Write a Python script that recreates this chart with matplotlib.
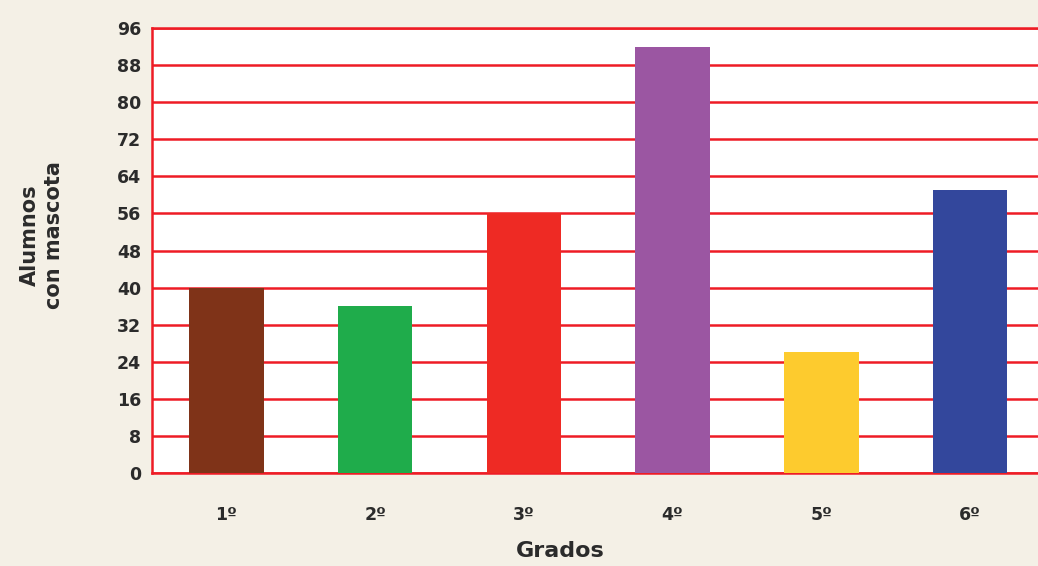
import numpy as np
import matplotlib.pyplot as plt

grados = ["1º", "2º", "3º", "4º", "5º", "6º"]
alumnos = [40, 36, 56, 92, 26, 61]
colores = ["#7f3318", "#1fac4b", "#ee2a24", "#9b56a2", "#fdcb2e", "#33479c"]
yticks = list(range(0, 97, 8))

fondo = "#f4f0e6"
rojo = "#ee1c25"
texto = "#2b2b2b"

fig = plt.figure(figsize=(10.38, 5.66), dpi=100, facecolor=fondo)
ax = fig.add_axes([152 / 1038, 93 / 566, 892.5 / 1038, 445 / 566])
ax.set_facecolor("white")

x = np.arange(len(grados))
ax.bar(x, alumnos, width=0.5, color=colores, zorder=3)

ax.set_xlim(-0.5, 5.5)
ax.set_ylim(0, 96)
ax.set_yticks(yticks)
ax.set_xticks(x)
ax.set_xticklabels(grados)
ax.grid(axis="y", color=rojo, linewidth=1.8, zorder=1)
ax.set_axisbelow(True)
for s in ["left", "bottom", "top"]:
    ax.spines[s].set_color(rojo)
    ax.spines[s].set_linewidth(1.8)
ax.spines["right"].set_visible(False)
ax.tick_params(length=0, labelsize=12.5, labelcolor=texto, pad=8)
ax.tick_params(axis="x", pad=24)
for lbl in ax.get_xticklabels() + ax.get_yticklabels():
    lbl.set_fontweight("bold")
    lbl.set_family("DejaVu Sans")

fig.text(42 / 1038, 1 - 235 / 566, "Alumnos\ncon mascota", rotation=90,
         ha="center", va="center", fontsize=15, fontweight="bold",
         color=texto, linespacing=1.3)
fig.text(560 / 1038, 1 - 551 / 566, "Grados", ha="center", va="center",
         fontsize=16, fontweight="bold", color=texto)

fig.savefig("out.png", dpi=100, facecolor=fondo)
